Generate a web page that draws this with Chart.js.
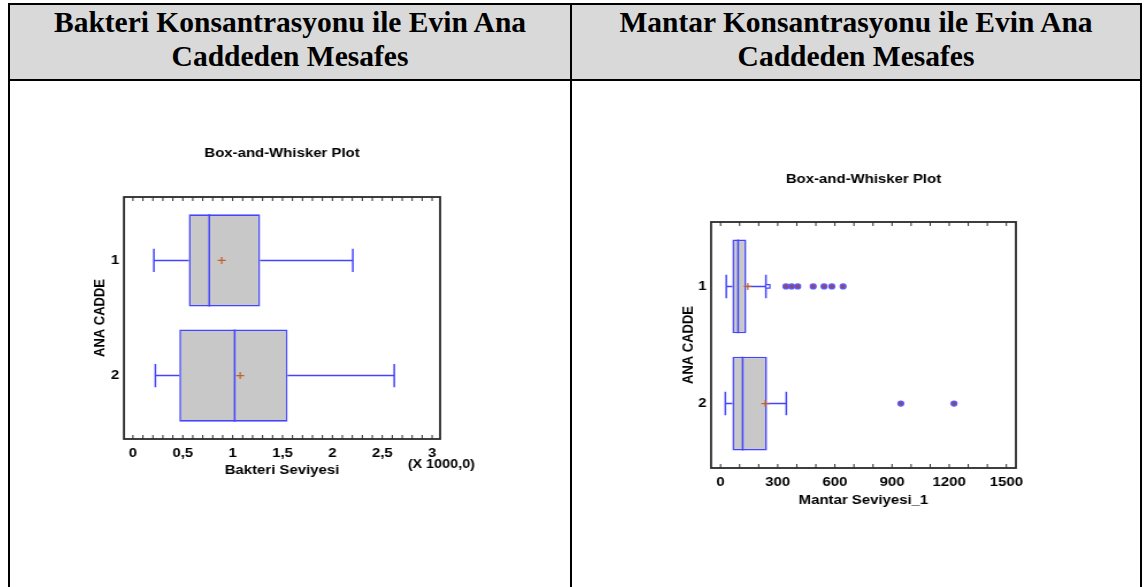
<!DOCTYPE html>
<html lang="tr">
<head>
<meta charset="utf-8">
<title>Bakteri ve Mantar Konsantrasyonu</title>
<script src="https://cdn.jsdelivr.net/npm/chart.js@4.4.1/dist/chart.umd.min.js"></script>
<style>
  html, body { margin: 0; padding: 0; background: #fff; }
  body { position: relative; width: 1147px; height: 587px; overflow: hidden; }
  .rule { position: absolute; background: #000; }
  .head { position: absolute; top: 5px; height: 74px; background: #d9d9d9; }
  .headText {
    position: absolute; top: 4.5px; margin: 0;
    font: bold 29.5px/34.5px "Liberation Serif", "Times New Roman", serif;
    color: #000; text-align: center;
  }
  /* the plot images are shown slightly widened inside their cells */
  .plot { position: absolute; top: 82px; transform: scaleX(1.15); transform-origin: 0 0; }
  .plot canvas { display: block; }
</style>
</head>
<body>
  <div class="head" style="left:10px; width:1130px;"></div>
  <p class="headText" style="left:10px; width:560px;">Bakteri Konsantrasyonu ile Evin Ana<br>Caddeden Mesafes</p>
  <p class="headText" style="left:572px; width:568px;">Mantar Konsantrasyonu ile Evin Ana<br>Caddeden Mesafes</p>

  <div class="rule" style="left:8px; top:3px; width:1134px; height:2px;"></div>
  <div class="rule" style="left:8px; top:79px; width:1134px; height:2px;"></div>
  <div class="rule" style="left:8px; top:3px; width:2px; height:584px;"></div>
  <div class="rule" style="left:570px; top:3px; width:2px; height:584px;"></div>
  <div class="rule" style="left:1140px; top:3px; width:2px; height:584px;"></div>

  <div class="plot" style="left:10px;"><canvas id="bakteri" width="487" height="505"></canvas></div>
  <div class="plot" style="left:572px;"><canvas id="mantar" width="494" height="505"></canvas></div>

<script>
// ANA CADDE groups
const groups = [1, 2];
const groupLabels = ['1', '2'];

// Bakteri Seviyesi (raw units, axis labelled in thousands)
const bakteriLow    = [210, 225];
const bakteriQ1     = [560, 465];
const bakteriMedian = [765, 1020];
const bakteriQ3     = [1275, 1550];
const bakteriHigh   = [2205, 2620];
const bakteriMean   = [890, 1075];
const bakteriTicks  = [0, 500, 1000, 1500, 2000, 2500, 3000];

// Mantar Seviyesi_1
const mantarLow      = [30, 25];
const mantarQ1       = [62, 62];
const mantarMedian   = [92, 116];
const mantarQ3       = [135, 244];
const mantarHigh     = [238, 345];
const mantarMean     = [143, 235];
const mantarOutside1 = [248];
const mantarFar1     = [343, 373, 405, 486, 543, 584, 643];
const mantarFar2     = [946, 1225];
const mantarTicks    = [0, 300, 600, 900, 1200, 1500];

const FONT = '"Liberation Sans", Arial, sans-serif';
const BLUE = '#4444ff';
const FILL = '#c8c8c8';
const MEAN = '#c0602a';
const HALF_BOX = 0.4;   // half box height, in group units
const HALF_CAP = 0.1;   // half whisker-cap height, in group units

// plot frame with inward minor ticks on the top and bottom edges
const framePlugin = {
  id: 'frame',
  afterDatasetsDraw(chart, args, o) {
    const { ctx, chartArea: a } = chart;
    const x = chart.scales.x;
    ctx.save();
    ctx.strokeStyle = '#2a2a2a';
    ctx.lineWidth = 1.8;
    ctx.strokeRect(a.left, a.top, a.right - a.left, a.bottom - a.top);
    ctx.lineWidth = 1;
    ctx.beginPath();
    for (let v = o.from; v <= o.to + 1e-6; v += o.step) {
      const px = x.getPixelForValue(v);
      ctx.moveTo(px, a.bottom); ctx.lineTo(px, a.bottom - 4);
      ctx.moveTo(px, a.top);    ctx.lineTo(px, a.top + 4);
    }
    ctx.stroke();
    if (o.unit) {
      ctx.fillStyle = '#000';
      ctx.font = 'bold 12.5px ' + FONT;
      ctx.textAlign = 'center';
      ctx.textBaseline = 'middle';
      ctx.fillText(o.unit, x.getPixelForValue(o.to) + 8, a.bottom + 26);
    }
    ctx.restore();
  }
};

function boxChart(id, s) {
  const boxes = groups.map((g, i) => ({ x: [s.q1[i], s.q3[i]], y: g }));
  const gap = () => ({ x: null, y: null });
  const whiskers = [], caps = [], medians = [];
  groups.forEach((g, i) => {
    whiskers.push({ x: s.low[i], y: g }, { x: s.q1[i], y: g }, gap(),
                  { x: s.q3[i], y: g }, { x: s.high[i], y: g }, gap());
    caps.push({ x: s.low[i], y: g - HALF_CAP }, { x: s.low[i], y: g + HALF_CAP }, gap(),
              { x: s.high[i], y: g - HALF_CAP }, { x: s.high[i], y: g + HALF_CAP }, gap());
    medians.push({ x: s.median[i], y: g - HALF_BOX }, { x: s.median[i], y: g + HALF_BOX }, gap());
  });
  const means = groups.map((g, i) => ({ x: s.mean[i], y: g }));
  const segment = (data, order) => ({
    type: 'line', data, borderColor: BLUE, borderWidth: 1.5,
    pointRadius: 0, spanGaps: false, fill: false, tension: 0, order
  });

  const datasets = [
    { type: 'bar', data: boxes, backgroundColor: FILL, borderColor: BLUE, borderWidth: 1.6,
      borderSkipped: false, categoryPercentage: 1, barPercentage: 2 * HALF_BOX, order: 9 },
    segment(whiskers, 8),
    segment(caps, 7),
    segment(medians, 6),
    { type: 'scatter', data: means, pointStyle: 'cross', pointRadius: 3.5,
      borderColor: MEAN, borderWidth: 1.2, order: 1 }
  ].concat(s.extra || []);

  const tickFont = { family: FONT, size: 13, weight: 'bold' };
  const titleFont = { family: FONT, size: 13, weight: 'bold' };

  return new Chart(document.getElementById(id), {
    type: 'bar',
    data: { datasets },
    options: {
      indexAxis: 'y',
      responsive: false,
      animation: false,
      events: [],
      layout: { padding: s.padding },
      plugins: {
        legend: { display: false },
        tooltip: { enabled: false },
        title: {
          display: true, text: 'Box-and-Whisker Plot', fullSize: false, color: '#000',
          font: titleFont, padding: { top: 0, bottom: s.titleGap }
        },
        frame: s.frame
      },
      scales: {
        x: {
          type: 'linear', min: s.min, max: s.max, offset: false,
          afterBuildTicks: sc => { sc.ticks = s.ticks.map(v => ({ value: v })); },
          afterFit: sc => { sc.height = s.xHeight; },
          grid: { display: false, drawTicks: false },
          border: { display: false },
          ticks: { autoSkip: false, maxRotation: 0, padding: 6.2, color: '#000', font: tickFont, callback: s.fmt },
          title: { display: true, text: s.xTitle, color: '#000', font: titleFont, padding: { top: 0, bottom: 0 } }
        },
        y: {
          type: 'linear', reverse: true, min: 0.45, max: 2.55, offset: false,
          afterBuildTicks: sc => { sc.ticks = groups.map(v => ({ value: v })); },
          afterFit: sc => { sc.width = s.yWidth; },
          grid: { display: false, drawTicks: false, offset: false },
          border: { display: false },
          ticks: { padding: 4, color: '#000', font: tickFont, callback: (v, i) => groupLabels[i] },
          title: { display: true, text: 'ANA CADDE', color: '#000', font: titleFont, padding: { top: 0, bottom: 0 } }
        }
      }
    },
    plugins: [framePlugin]
  });
}

boxChart('bakteri', {
  low: bakteriLow, q1: bakteriQ1, median: bakteriMedian, q3: bakteriQ3,
  high: bakteriHigh, mean: bakteriMean,
  ticks: bakteriTicks, min: -90, max: 3080,
  fmt: v => String(v / 1000).replace('.', ','),
  xTitle: 'Bakteri Seviyesi',
  padding: { left: 70.5, right: 113, top: 63.2, bottom: 109.2 },
  titleGap: 36.2, yWidth: 28.6, xHeight: 38.8,
  frame: { from: 0, to: 3000, step: 100, unit: '(X 1000,0)' }
});

const outlierStyle = {
  type: 'scatter', pointStyle: 'circle', pointRadius: 2.5,
  backgroundColor: '#8a4a78', borderColor: '#5a5aff', borderWidth: 1.2, order: 0
};

boxChart('mantar', {
  low: mantarLow, q1: mantarQ1, median: mantarMedian, q3: mantarQ3,
  high: mantarHigh, mean: mantarMean,
  ticks: mantarTicks, min: -50, max: 1550,
  fmt: v => String(v),
  xTitle: 'Mantar Seviyesi_1',
  padding: { left: 93.9, right: 108, top: 89.2, bottom: 79.2 },
  titleGap: 35.2, yWidth: 27, xHeight: 39.8,
  frame: { from: 0, to: 1500, step: 100 },
  extra: [
    Object.assign({}, outlierStyle, {
      data: mantarFar1.map(v => ({ x: v, y: groups[0] })).concat(mantarFar2.map(v => ({ x: v, y: groups[1] })))
    }),
    { type: 'scatter', data: mantarOutside1.map(v => ({ x: v, y: groups[0] })), pointStyle: 'rect',
      pointRadius: 2.5, backgroundColor: '#fff', borderColor: BLUE, borderWidth: 1.2, order: 0 }
  ]
});
</script>
</body>
</html>
